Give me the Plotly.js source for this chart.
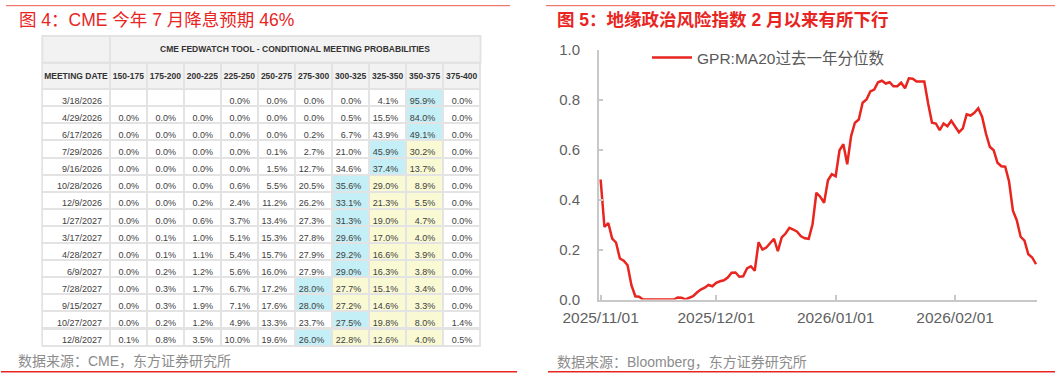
<!DOCTYPE html>
<html>
<head>
<meta charset="utf-8">
<script src="https://cdn.plot.ly/plotly-3.0.1.min.js"></script>
<style>
  html, body { margin: 0; padding: 0; background: #ffffff; }
  #chart { width: 1061px; height: 378px; }
</style>
</head>
<body>
<div id="chart"></div>
<script>
// ---- CME FedWatch conditional meeting probabilities (%) ----
const meetingDates = ['3/18/2026', '4/29/2026', '6/17/2026', '7/29/2026', '9/16/2026', '10/28/2026',
  '12/9/2026', '1/27/2027', '3/17/2027', '4/28/2027', '6/9/2027', '7/28/2027', '9/15/2027',
  '10/27/2027', '12/8/2027'];
const rateBuckets = ['150-175', '175-200', '200-225', '225-250', '250-275', '275-300',
  '300-325', '325-350', '350-375', '375-400'];
const currentBucket = '350-375';
const tableTitle = 'CME FEDWATCH TOOL - CONDITIONAL MEETING PROBABILITIES';

const p150_175 = [null, 0.0, 0.0, 0.0, 0.0, 0.0, 0.0, 0.0, 0.0, 0.0, 0.0, 0.0, 0.0, 0.0, 0.1];
const p175_200 = [null, 0.0, 0.0, 0.0, 0.0, 0.0, 0.0, 0.0, 0.1, 0.1, 0.2, 0.3, 0.3, 0.2, 0.8];
const p200_225 = [null, 0.0, 0.0, 0.0, 0.0, 0.0, 0.2, 0.6, 1.0, 1.1, 1.2, 1.7, 1.9, 1.2, 3.5];
const p225_250 = [0.0, 0.0, 0.0, 0.0, 0.0, 0.6, 2.4, 3.7, 5.1, 5.4, 5.6, 6.7, 7.1, 4.9, 10.0];
const p250_275 = [0.0, 0.0, 0.0, 0.1, 1.5, 5.5, 11.2, 13.4, 15.3, 15.7, 16.0, 17.2, 17.6, 13.3, 19.6];
const p275_300 = [0.0, 0.0, 0.2, 2.7, 12.7, 20.5, 26.2, 27.3, 27.8, 27.9, 27.9, 28.0, 28.0, 23.7, 26.0];
const p300_325 = [0.0, 0.5, 6.7, 21.0, 34.6, 35.6, 33.1, 31.3, 29.6, 29.2, 29.0, 27.7, 27.2, 27.5, 22.8];
const p325_350 = [4.1, 15.5, 43.9, 45.9, 37.4, 29.0, 21.3, 19.0, 17.0, 16.6, 16.3, 15.1, 14.6, 19.8, 12.6];
const p350_375 = [95.9, 84.0, 49.1, 30.2, 13.7, 8.9, 5.5, 4.7, 4.0, 3.9, 3.8, 3.4, 3.3, 8.0, 4.0];
const p375_400 = [0.0, 0.0, 0.0, 0.0, 0.0, 0.0, 0.0, 0.0, 0.0, 0.0, 0.0, 0.0, 0.0, 1.4, 0.5];

// ---- GPR: MA20 percentile over the past year ----
const gprDates = [
  '2025-11-01','2025-11-02','2025-11-03','2025-11-04','2025-11-05','2025-11-06','2025-11-07','2025-11-08','2025-11-09','2025-11-10',
  '2025-11-11','2025-11-12','2025-11-13','2025-11-14','2025-11-15','2025-11-16','2025-11-17','2025-11-18','2025-11-19','2025-11-20',
  '2025-11-21','2025-11-22','2025-11-23','2025-11-24','2025-11-25','2025-11-26','2025-11-27','2025-11-28','2025-11-29','2025-11-30',
  '2025-12-01','2025-12-02','2025-12-03','2025-12-04','2025-12-05','2025-12-06','2025-12-07','2025-12-08','2025-12-09','2025-12-10',
  '2025-12-11','2025-12-12','2025-12-13','2025-12-14','2025-12-15','2025-12-16','2025-12-17','2025-12-18','2025-12-19','2025-12-20',
  '2025-12-21','2025-12-22','2025-12-23','2025-12-24','2025-12-25','2025-12-26','2025-12-27','2025-12-28','2025-12-29','2025-12-30',
  '2025-12-31','2026-01-01','2026-01-02','2026-01-03','2026-01-04','2026-01-05','2026-01-06','2026-01-07','2026-01-08','2026-01-09',
  '2026-01-10','2026-01-11','2026-01-12','2026-01-13','2026-01-14','2026-01-15','2026-01-16','2026-01-17','2026-01-18','2026-01-19',
  '2026-01-20','2026-01-21','2026-01-22','2026-01-23','2026-01-24','2026-01-25','2026-01-26','2026-01-27','2026-01-28','2026-01-29',
  '2026-01-30','2026-01-31','2026-02-01','2026-02-02','2026-02-03','2026-02-04','2026-02-05','2026-02-06','2026-02-07','2026-02-08',
  '2026-02-09','2026-02-10','2026-02-11','2026-02-12','2026-02-13','2026-02-14','2026-02-15','2026-02-16','2026-02-17','2026-02-18',
  '2026-02-19','2026-02-20','2026-02-21','2026-02-22'
];
const gprPercentile = [
  0.48, 0.29, 0.306, 0.244, 0.228, 0.164, 0.155, 0.137, 0.057, 0.013,
  0.011, 0.0, 0.0, 0.0, 0.0, 0.0, 0.0, 0.0, 0.0, 0.0,
  0.008, 0.007, 0.0, 0.008, 0.013, 0.028, 0.04, 0.047, 0.058, 0.053,
  0.067, 0.073, 0.077, 0.088, 0.107, 0.108, 0.091, 0.093, 0.124, 0.133,
  0.115, 0.229, 0.200, 0.208, 0.227, 0.243, 0.193, 0.248, 0.264, 0.287,
  0.280, 0.271, 0.253, 0.245, 0.243, 0.301, 0.427, 0.411, 0.387, 0.477,
  0.501, 0.493, 0.597, 0.621, 0.541, 0.653, 0.707, 0.720, 0.787, 0.800,
  0.832, 0.840, 0.869, 0.875, 0.864, 0.869, 0.853, 0.853, 0.867, 0.845,
  0.885, 0.883, 0.872, 0.873, 0.872, 0.784, 0.707, 0.704, 0.677, 0.704,
  0.693, 0.715, 0.691, 0.669, 0.685, 0.741, 0.736, 0.747, 0.765, 0.731,
  0.664, 0.611, 0.597, 0.547, 0.533, 0.531, 0.472, 0.355, 0.317, 0.251,
  0.235, 0.181, 0.168, 0.141
];
const gprTickDates = ['2025-11-01', '2025-12-01', '2026-01-01', '2026-02-01'];

// ---- page geometry (px) ----
const W = 1061, H = 378;
const px = v => v / W;
const py = v => 1 - v / H;

const FONT_LATIN = 'Arial, "Liberation Sans", "Noto Sans CJK SC", sans-serif';
const RED = '#e8251f';
const GRID = '#e3e3e3';
const HEAD_FILL = '#f2f2f2';
const CYAN = '#c4eff6';
const YELLOW = '#f9f9d4';

// ---- table cells ----
const bucketCols = [p150_175, p175_200, p200_225, p225_250, p250_275,
  p275_300, p300_325, p325_350, p350_375, p375_400];
const fmt = v => (v === null ? '' : v.toFixed(1) + '%');
const curIdx = rateBuckets.indexOf(currentBucket);

// highlight: most likely bucket in cyan, buckets between it and the current range in yellow
const fillCols = [meetingDates.map(() => '#ffffff')];
bucketCols.forEach(() => fillCols.push([]));
meetingDates.forEach((_, r) => {
  let best = 0;
  bucketCols.forEach((col, c) => {
    const v = col[r] === null ? -1 : col[r];
    const b = bucketCols[best][r] === null ? -1 : bucketCols[best][r];
    if (v > b) best = c;
  });
  bucketCols.forEach((col, c) => {
    let f = '#ffffff';
    if (c === best) f = CYAN;
    else if (c > best && c <= curIdx) f = YELLOW;
    fillCols[c + 1].push(f);
  });
});

// table box (px)
const TBL_L = 42.3, TBL_R = 480.5, FIRST_R = 110.0;
const TBL_TOP = 36.0, HEAD2_TOP = 62.5;

const probTable = {
  type: 'table',
  domain: { x: [px(TBL_L), px(TBL_R)], y: [py(362), py(HEAD2_TOP)] },
  columnwidth: [FIRST_R - TBL_L].concat(rateBuckets.map(() => (TBL_R - FIRST_R) / 10)),
  header: {
    values: ['<b>MEETING\u00a0DATE</b>'].concat(rateBuckets.map(b => '<b>' + b + '</b>')),
    height: 26.6,
    align: 'center',
    fill: { color: HEAD_FILL },
    line: { color: GRID, width: 2 },
    font: { family: FONT_LATIN, size: 8.5, color: '#333333' }
  },
  cells: {
    values: [meetingDates].concat(bucketCols.map(col => col.map(fmt))),
    height: 17.1,
    align: 'right',
    fill: { color: fillCols },
    line: { color: GRID, width: 2 },
    font: { family: FONT_LATIN, size: 9, color: '#404040' }
  }
};

const gprLine = {
  type: 'scatter',
  mode: 'lines',
  x: gprDates,
  y: gprPercentile,
  name: 'GPR:MA20过去一年分位数',
  line: { color: RED, width: 2.5 },
  xaxis: 'x',
  yaxis: 'y'
};

const axisGray = '#c8c8c8';
const layout = {
  width: W,
  height: H,
  margin: { l: 0, r: 0, t: 0, b: 0 },
  paper_bgcolor: '#ffffff',
  plot_bgcolor: '#ffffff',
  showlegend: true,
  legend: {
    x: px(647), xanchor: 'left',
    y: py(58), yanchor: 'middle',
    bgcolor: 'rgba(0,0,0,0)',
    itemwidth: 40,
    font: { family: FONT_LATIN, size: 15.5, color: '#595959' }
  },
  xaxis: {
    domain: [px(599), px(1037)],
    anchor: 'y',
    type: 'date',
    range: ['2025-10-31 14:00', '2026-02-22 06:00'],
    tickvals: gprTickDates,
    tickformat: '%Y/%m/%d',
    ticks: 'inside',
    ticklen: 5,
    tickwidth: 1.5,
    tickcolor: axisGray,
    showline: true,
    linecolor: axisGray,
    linewidth: 2,
    showgrid: false,
    zeroline: false,
    ticklabelstandoff: 3,
    tickfont: { family: FONT_LATIN, size: 15.5, color: '#5f5f5f' }
  },
  yaxis: {
    domain: [py(299.5), py(49.5)],
    anchor: 'x',
    range: [0, 1],
    dtick: 0.2,
    tick0: 0,
    tickformat: '.1f',
    ticks: 'inside',
    ticklen: 4,
    tickwidth: 1.5,
    tickcolor: axisGray,
    showline: true,
    linecolor: axisGray,
    linewidth: 2,
    showgrid: false,
    zeroline: false,
    ticklabelstandoff: 14,
    tickfont: { family: FONT_LATIN, size: 15, color: '#5f5f5f' }
  },
  shapes: [
    // title row of the table: blank corner cell and the spanning title cell
    { type: 'rect', xref: 'paper', yref: 'paper', x0: px(TBL_L), x1: px(FIRST_R), y0: py(HEAD2_TOP), y1: py(TBL_TOP),
      fillcolor: HEAD_FILL, line: { color: GRID, width: 2 }, layer: 'above' },
    { type: 'rect', xref: 'paper', yref: 'paper', x0: px(FIRST_R), x1: px(TBL_R), y0: py(HEAD2_TOP), y1: py(TBL_TOP),
      fillcolor: HEAD_FILL, line: { color: GRID, width: 2 }, layer: 'above' },
    // red rules framing each panel
    { type: 'line', xref: 'paper', yref: 'paper', x0: px(6), x1: px(510), y0: py(5.7), y1: py(5.7), line: { color: '#ec5a50', width: 1 } },
    { type: 'line', xref: 'paper', yref: 'paper', x0: px(546), x1: px(1055), y0: py(5.7), y1: py(5.7), line: { color: '#ec5a50', width: 1 } },
    { type: 'line', xref: 'paper', yref: 'paper', x0: px(1), x1: px(517), y0: py(371.7), y1: py(371.7), line: { color: RED, width: 1.5 } },
    { type: 'line', xref: 'paper', yref: 'paper', x0: px(548), x1: px(1055), y0: py(371.7), y1: py(371.7), line: { color: RED, width: 1.5 } }
  ],
  annotations: [
    { xref: 'paper', yref: 'paper', x: px((FIRST_R + TBL_R) / 2), y: py((TBL_TOP + HEAD2_TOP) / 2), xanchor: 'center', yanchor: 'middle', showarrow: false,
      text: '<b>' + tableTitle + '</b>', font: { family: FONT_LATIN, size: 8.5, color: '#333333' } },
    { xref: 'paper', yref: 'paper', x: px(17), y: py(20), xanchor: 'left', yanchor: 'middle', showarrow: false,
      text: '图 4：CME 今年 7 月降息预期 46%', font: { family: FONT_LATIN, size: 17.5, color: RED } },
    { xref: 'paper', yref: 'paper', x: px(555), y: py(20), xanchor: 'left', yanchor: 'middle', showarrow: false,
      text: '<b>图 5：地缘政治风险指数 2 月以来有所下行</b>', font: { family: FONT_LATIN, size: 17.5, color: RED } },
    { xref: 'paper', yref: 'paper', x: px(16), y: py(361), xanchor: 'left', yanchor: 'middle', showarrow: false,
      text: '数据来源：CME，东方证券研究所', font: { family: FONT_LATIN, size: 14, color: '#8c8c8c' } },
    { xref: 'paper', yref: 'paper', x: px(555), y: py(362), xanchor: 'left', yanchor: 'middle', showarrow: false,
      text: '数据来源：Bloomberg，东方证券研究所', font: { family: FONT_LATIN, size: 14, color: '#8c8c8c' } }
  ]
};

Plotly.newPlot('chart', [probTable, gprLine], layout, { displayModeBar: false });
</script>
</body>
</html>
